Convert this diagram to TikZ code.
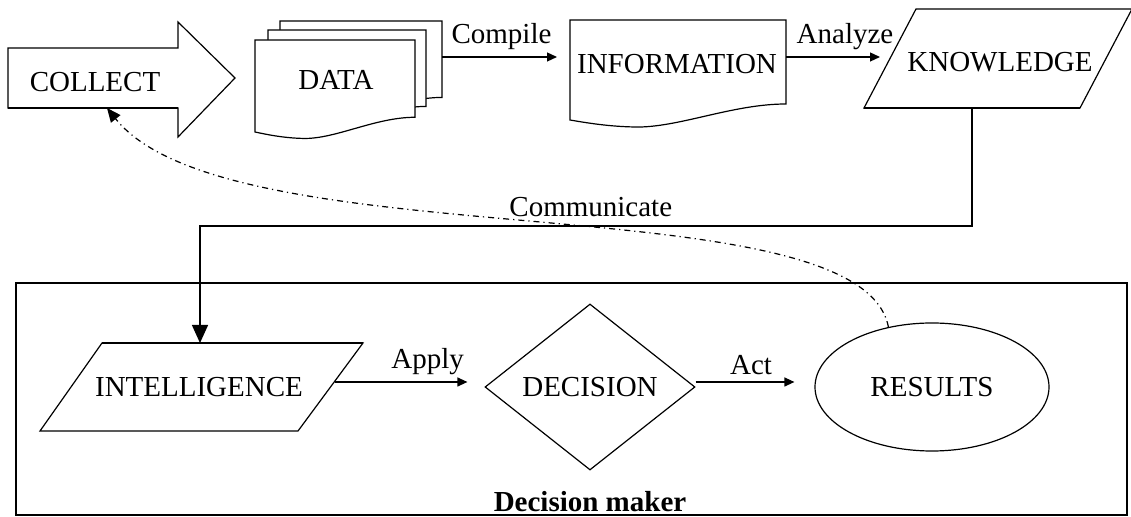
\documentclass[tikz,border=0pt]{standalone}
\usepackage{fontspec}
\setmainfont{Liberation Serif}
\usetikzlibrary{arrows.meta,shapes.geometric}

\tikzset{
  outline/.style={draw, line width=0.6pt, fill=white},
  heavy/.style={line width=1.3pt},
  flow/.style={line width=0.6pt, -{Triangle[length=5pt,width=4.5pt]}},
  drop/.style={line width=0.7pt, -{Triangle[length=9pt,width=8pt]}},
  feedback/.style={line width=0.6pt, dash pattern=on 3pt off 2pt on 0.6pt off 2pt,
    -{Triangle[length=7pt,width=6pt]}},
  docsheet/.pic={
    \path[outline] (0,0) -- (1,0) -- (1,0.84)
      .. controls (0.75,0.84) and (0.5,1.08) .. (0.3,1.07)
      .. controls (0.18,1.065) and (0.08,1.03) .. (0,1) -- cycle;
  },
}

\begin{document}
\begin{tikzpicture}[x=0.5pt, y=-0.5pt, font=\fontsize{14.5}{17}\selectfont]
  \useasboundingbox (0,0) rectangle (1131,517);

  % Decision maker frame
  \draw[line width=0.6pt] (16,283) rectangle (1127,515);
  \node[font=\fontsize{14.5}{17}\selectfont\bfseries, anchor=base] (maker) at (590,512) {Decision maker};

  % Collect arrow
  \path[outline] (8,48) -- (178,48) -- (178,22) -- (235,78) -- (178,137) -- (178,108) -- (8,108) -- cycle;
  \draw[heavy] (8,108) -- (178,108);
  \node (collect) at (95,82) {COLLECT};
  \coordinate (collectfoot) at (107,108);

  % Data: three stacked sheets
  \pic[xscale=162, yscale=91] at (280,21) {docsheet};
  \pic[xscale=158, yscale=91] at (268,30) {docsheet};
  \pic[xscale=160, yscale=92] at (255,40) {docsheet};
  \node (data) at (336,80) {DATA};
  \coordinate (dataout) at (442,57);

  % Information
  \pic[xscale=216, yscale=100] at (570,20) {docsheet};
  \node (information) at (677,64) {INFORMATION};
  \coordinate (infoin) at (557,57);
  \coordinate (infoout) at (786,57);

  % Knowledge
  \path[outline] (916,9) -- (1132,9) -- (1080,108) -- (864,108) -- cycle;
  \draw[heavy] (864,108) -- (1080,108);
  \node (knowledge) at (1000,62) {KNOWLEDGE};
  \coordinate (knowin) at (880,57);
  \coordinate (knowfoot) at (972,108);

  % Intelligence
  \path[outline] (102,343) -- (363,343) -- (298,431) -- (40,431) -- cycle;
  \draw[heavy] (102,343) -- (363,343);
  \node (intelligence) at (199,387) {INTELLIGENCE};
  \coordinate (inteltop) at (200,343);
  \coordinate (intelout) at (335,382);

  \node[diamond, draw, line width=0.6pt, minimum width=105pt, minimum height=83pt, inner sep=0pt] (decision) at (590,387) {DECISION};
  \node[ellipse, draw, line width=0.6pt, minimum width=117pt, minimum height=64pt] (results) at (932,387) {RESULTS};

  % Connectors
  \draw[flow] (dataout) -- node[above, xshift=1pt] {Compile} (infoin);
  \draw[flow] (infoout) -- node[above, xshift=6pt] {Analyze} (knowin);
  \draw[drop] (knowfoot) -- ++(0,118) -| (inteltop);
  \draw[flow, shorten >=8.5pt] (intelout) -- node[above, xshift=9pt] {Apply} (intelout -| decision.west);
  \draw[flow] ([yshift=2.5pt]decision.east) -- node[above, xshift=3pt] {Act} ([xshift=-10pt, yshift=2.5pt]results.west);
  \draw[feedback] (results.126) .. controls (860,180) and (230,262) .. (collectfoot)
    node[pos=0.445, above, yshift=1pt] {Communicate};
\end{tikzpicture}
\end{document}
